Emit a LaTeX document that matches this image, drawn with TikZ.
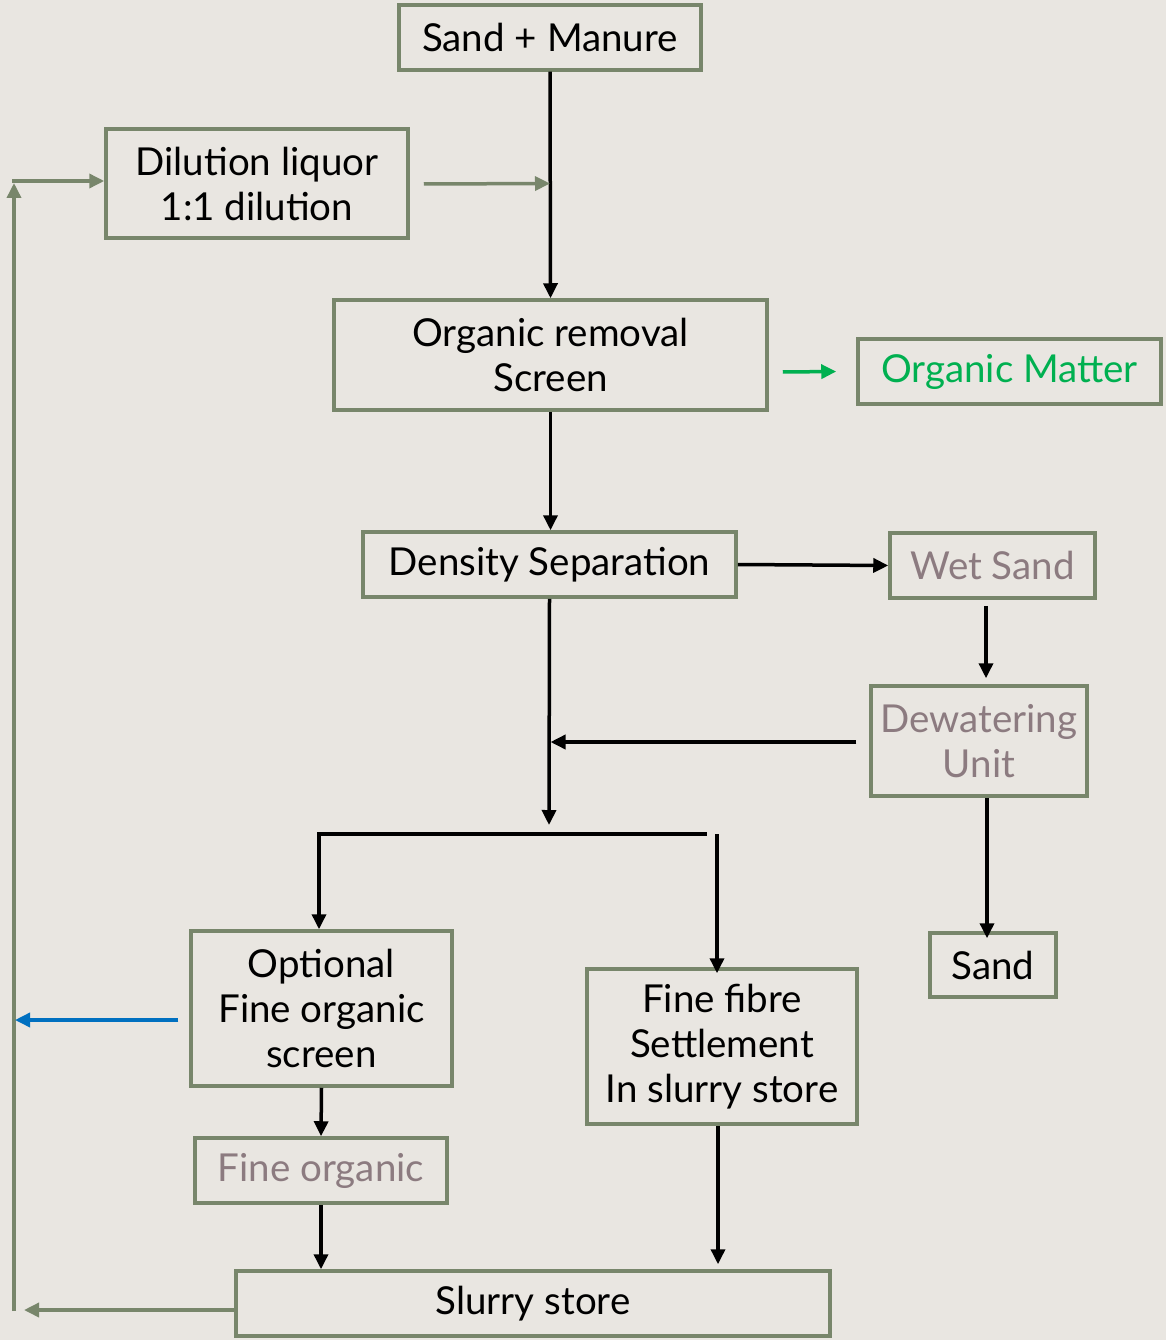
\documentclass[tikz,border=0pt]{standalone}
\usepackage{fontspec}
\setmainfont{Lato}
\usetikzlibrary{arrows.meta,calc}
\definecolor{bg}{HTML}{E9E6E1}
\definecolor{boxgreen}{HTML}{78866B}
\definecolor{greytext}{HTML}{8C7B80}
\definecolor{brightgreen}{HTML}{00B050}
\definecolor{arrowblue}{HTML}{0070C0}
\tikzset{
  box/.style={draw=boxgreen, line width=3.5pt, inner sep=0pt, align=center,
    font=\fontsize{38.5}{45}\selectfont, text=black},
  greyt/.style={text=greytext},
  tip/.style={-{Triangle[length=15pt,width=14pt]}},
  blk/.style={draw=black, line width=3.5pt, tip},
  blkline/.style={draw=black, line width=3.5pt},
  grn/.style={draw=boxgreen, line width=3.5pt, tip},
  bgreen/.style={draw=brightgreen, line width=3.5pt, tip},
  blu/.style={draw=arrowblue, line width=3.5pt, tip},
}
\begin{document}
\begin{tikzpicture}[x=1pt,y=-1pt]
\fill[bg] (0,0) rectangle (1166,1340);
\useasboundingbox (0,0) rectangle (1166,1340);

\node[box, minimum width=302pt, minimum height=65pt] (sm) at (550,37.5) {Sand + Manure};
\node[box, minimum width=302pt, minimum height=109pt] (dil) at (257,183.5) {Dilution liquor\\1:1 dilution};
\node[box, minimum width=433pt, minimum height=110pt] (orr) at (550.5,355) {Organic removal\\Screen};
\node[box, minimum width=303pt, minimum height=65pt, text=brightgreen] (om) at (1009.5,371.5) {Organic Matter};
\node[box, minimum width=373pt, minimum height=65pt] (dens) at (549.5,564.5) {Density Separation};
\node[box, greyt, minimum width=205pt, minimum height=65pt] (wet) at (992.5,565.5) {Wet Sand};
\node[box, greyt, minimum width=216pt, minimum height=110pt] (dew) at (979,741) {Dewatering\\Unit};
\node[box, minimum width=126pt, minimum height=64pt] (sand) at (993,965) {Sand};
\node[box, minimum width=261pt, minimum height=155pt] (opt) at (321.5,1008.5) {Optional\\Fine organic\\screen};
\node[box, minimum width=270pt, minimum height=155pt] (ff) at (722,1046.5) {Fine fibre\\Settlement\\In slurry store};
\node[box, greyt, minimum width=252pt, minimum height=65pt] (fo) at (321,1170.5) {Fine organic};
\node[box, minimum width=594pt, minimum height=65pt] (sl) at (533,1303.5) {Slurry store};

% junction coordinates
\coordinate (lbot) at (14,1311);
\coordinate (ltop) at (14,181);
\coordinate (slend) at (24,1310);
\coordinate (bluend) at (15,1020);
\coordinate (split) at (549,834);
\coordinate (splitL) at (319,834);
\coordinate (splitR) at (707,834);
\coordinate (ffin) at (717,834);
\coordinate (dewout) at ([xshift=8pt]dew.south);
\coordinate (ffout) at ([xshift=-4pt]ff.south);
\coordinate (wetout) at ([xshift=-6.5pt,yshift=-6pt]wet.south);

% main column
\draw[blk] (sm.south) -- (orr.north);
\draw[grn] ([xshift=14pt,yshift=-0.5pt]dil.east) -- (dil.east -| sm.south);
\draw[blk] (orr.south) -- (dens.north -| orr.south);
\draw[bgreen] ([xshift=14pt,yshift=-17pt]orr.east) -- ([xshift=-20pt]om.west);
\draw[blk] (dens.east) -- (wet.west);
\draw[blk] (wetout) -- ([yshift=6pt]dew.north -| wetout);
\draw[blk] ([xshift=-13pt,yshift=-1pt]dew.west) -- ([xshift=1pt,yshift=-1pt]dew.west -| dens.south);
\draw[blk] (dewout) -- ([yshift=-7pt]sand.north -| dewout);
\draw[blk] (dens.south) -- ([yshift=9pt]split);
\draw[blkline] (splitL) -- (splitR);
\draw[blk] ([yshift=1.75pt]splitL) -- (opt.north -| splitL);
\draw[blk] (ffin) -- ([yshift=-6pt]ff.north -| ffin);
\draw[blk] (opt.south) -- (fo.north);
\draw[blk] (fo.south) -- (sl.north -| fo.south);
\draw[blk] (ffout) -- ([yshift=5pt]sl.north -| ffout);

% feedback loop
\draw[grn] ([yshift=-6.5pt]sl.west) -- (slend);
\draw[grn] (lbot) -- ([yshift=-2pt]ltop);
\draw[grn] ([xshift=-1.75pt]ltop) -- (ltop -| dil.west);
\draw[blu] ([xshift=-11pt,yshift=-11.5pt]opt.west) -- (bluend);
\end{tikzpicture}
\end{document}
